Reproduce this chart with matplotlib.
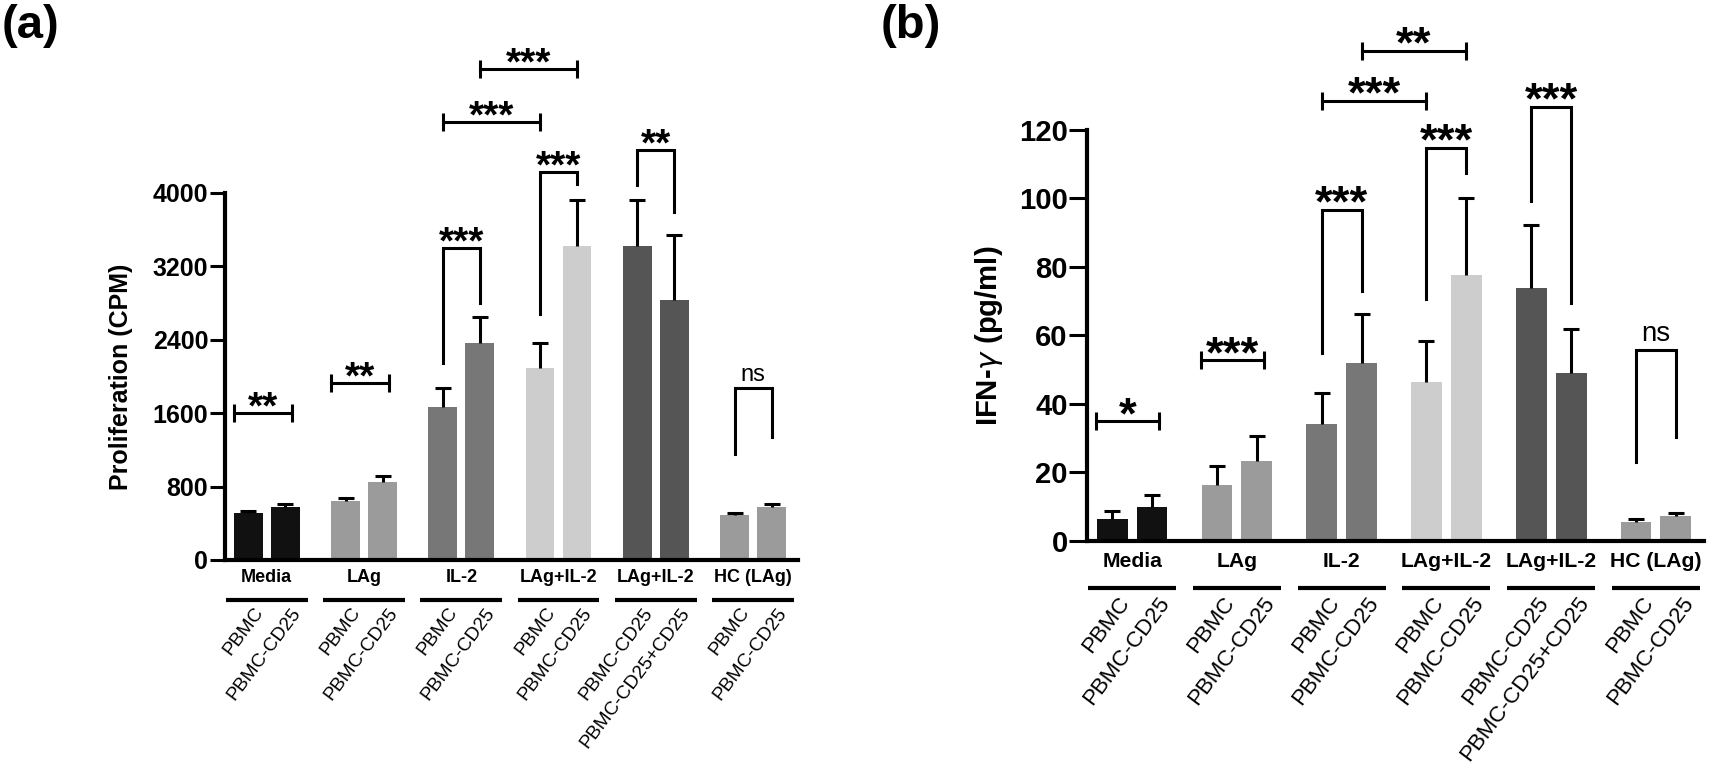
import numpy as np
import matplotlib
matplotlib.use("Agg")
import matplotlib.pyplot as plt
from matplotlib import transforms

plt.rcParams['font.family'] = ['Liberation Sans', 'DejaVu Sans']

groups = ["Media", "LAg", "IL-2", "LAg+IL-2", "LAg+IL-2", "HC (LAg)"]
bar_labels = [("PBMC", "PBMC-CD25"), ("PBMC", "PBMC-CD25"), ("PBMC", "PBMC-CD25"),
              ("PBMC", "PBMC-CD25"), ("PBMC-CD25", "PBMC-CD25+CD25"), ("PBMC", "PBMC-CD25")]
group_colors = ["#111111", "#9b9b9b", "#777777", "#cdcdcd", "#555555", "#9b9b9b"]

# panel (a) proliferation, CPM
prolif_mean = [[510, 580], [640, 855], [1670, 2370], [2090, 3420], [3420, 2830], [490, 577]]
prolif_err = [[20, 25], [36, 62], [200, 283], [280, 509], [502, 709], [22, 33]]

# panel (b) IFN-gamma, pg/ml
ifng_mean = [[6.5, 9.8], [16.4, 23.4], [34.3, 52.1], [46.5, 77.6], [73.8, 48.9], [5.6, 7.3]]
ifng_err = [[2.3, 3.7], [5.6, 7.3], [9.0, 14.1], [11.9, 22.5], [18.4, 13.1], [0.8, 0.9]]

# significance: (group1, bar1, group2, bar2, top, left end, right end, text)
# no ends -> flat bar with end ticks
prolif_sig = [
    (0, 0, 0, 1, 1600, None, None, "**"),
    (1, 0, 1, 1, 1930, None, None, "**"),
    (2, 0, 2, 1, 3400, 2145, 2800, "***"),
    (3, 0, 3, 1, 4234, 2683, 4103, "***"),
    (4, 0, 4, 1, 4473, 4092, 3788, "**"),
    (5, 0, 5, 1, 1870, 1154, 1340, "ns"),
    (2, 0, 3, 0, 4778, None, None, "***"),
    (2, 1, 3, 1, 5355, None, None, "***"),
]
ifng_sig = [
    (0, 0, 0, 1, 34.9, None, None, "*"),
    (1, 0, 1, 1, 52.7, None, None, "***"),
    (2, 0, 2, 1, 96.6, 55, 73, "***"),
    (3, 0, 3, 1, 114.8, 70.6, 107.4, "***"),
    (4, 0, 4, 1, 126.8, 99.2, 69.4, "***"),
    (5, 0, 5, 1, 55.9, 23, 30.5, "ns"),
    (2, 0, 3, 0, 128.5, None, None, "***"),
    (2, 1, 3, 1, 143.2, None, None, "**"),
]


def draw_panel(ax, means, errs, sig, yticks, ylabel, s):
    # s = font scale of the panel
    off = 0.19
    width = 0.295
    lw = 2.2
    for g in range(len(groups)):
        xs = np.array([g - off, g + off])
        top = np.array(means[g]) + np.array(errs[g])
        ax.bar(xs, means[g], width, color=group_colors[g], linewidth=0, zorder=2)
        ax.vlines(xs, means[g], top, color='black', lw=lw, zorder=3)
        ax.plot(xs, top, ls='none', marker='_', ms=11, mew=lw, color='black', zorder=3)

    for g1, b1, g2, b2, ytop, yl, yr, txt in sig:
        x1 = g1 + (2 * b1 - 1) * off
        x2 = g2 + (2 * b2 - 1) * off
        if yl is None:
            if g1 == g2:
                x1 -= 0.15
                x2 += 0.07
            ax.plot([x1, x2], [ytop, ytop], color='black', lw=lw, clip_on=False)
            ax.plot([x1, x2], [ytop, ytop], ls='none', marker='|', ms=13, mew=lw,
                    color='black', clip_on=False)
        else:
            ax.plot([x1, x1, x2, x2], [yl, ytop, ytop, yr], color='black', lw=lw,
                    clip_on=False, solid_joinstyle='miter')
        if txt == "ns":
            ax.annotate(txt, xy=((x1 + x2) / 2, ytop), xytext=(0, 5 * s),
                        textcoords='offset points', ha='center', va='baseline',
                        fontsize=17 * s, annotation_clip=False)
        else:
            ax.annotate(txt, xy=((x1 + x2) / 2, ytop), xytext=(0, -4 * s),
                        textcoords='offset points', ha='center', va='baseline',
                        fontsize=28 * s, fontweight='bold', annotation_clip=False)

    ax.set_xlim(-0.43, len(groups) - 1 + 0.46)
    ax.set_ylim(0, yticks[-1])
    ax.set_yticks(yticks)
    ax.set_xticks([])
    for side in ['top', 'right']:
        ax.spines[side].set_visible(False)
    for side in ['left', 'bottom']:
        ax.spines[side].set_linewidth(3.0)
    ax.tick_params(axis='y', length=11 * s, width=2.2, labelsize=18 * s, pad=1)
    for lbl in ax.get_yticklabels():
        lbl.set_fontweight('bold')
    ax.set_ylabel(ylabel, fontsize=18 * s, fontweight='bold')

    bt = transforms.blended_transform_factory(ax.transData, ax.transAxes)
    h_px = ax.get_window_extent().height
    for g, name in enumerate(groups):
        ax.annotate(name, xy=(g, 0), xycoords=bt, xytext=(0, -12.5 * s),
                    textcoords='offset points', ha='center', va='center',
                    fontsize=13 * s, fontweight='bold', annotation_clip=False)
        ax.plot([g - 0.42, g + 0.42], [-40 * s / h_px] * 2, transform=bt,
                color='black', lw=3.0, clip_on=False, solid_capstyle='butt')
        for b in range(2):
            ax.annotate(bar_labels[g][b], xy=(g + (2 * b - 1) * off + 0.05, 0), xycoords=bt,
                        xytext=(0, -32 * s), textcoords='offset points',
                        ha='right', va='top', rotation=53, rotation_mode='anchor',
                        fontsize=13.8 * s, annotation_clip=False)


fig = plt.figure(figsize=(17.13, 7.82), dpi=100)
ax_a = fig.add_axes([0.1313, 0.2839, 0.3345, 0.4693])
ax_b = fig.add_axes([0.6346, 0.3082, 0.3602, 0.5256])

draw_panel(ax_a, prolif_mean, prolif_err, prolif_sig, [0, 800, 1600, 2400, 3200, 4000],
           "Proliferation (CPM)", 1.0)
draw_panel(ax_b, ifng_mean, ifng_err, ifng_sig, [0, 20, 40, 60, 80, 100, 120],
           r"IFN-$\gamma$ (pg/ml)", 1.17)
ax_a.yaxis.set_label_coords(-0.161, 0.5)
ax_b.yaxis.set_label_coords(-0.133, 0.5)

fig.text(0.001, 0.995, "(a)", fontsize=34, fontweight='bold', va='top', ha='left')
fig.text(0.514, 0.995, "(b)", fontsize=34, fontweight='bold', va='top', ha='left')

fig.savefig("out.png", dpi=100)
